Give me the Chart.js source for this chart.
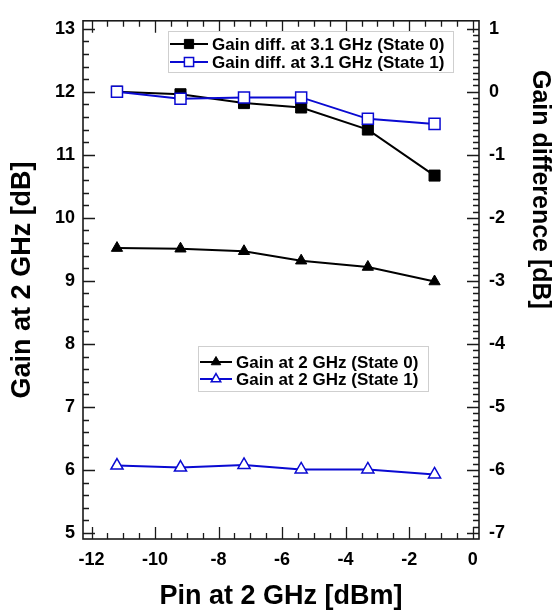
<!DOCTYPE html>
<html>
<head>
<meta charset="utf-8">
<script src="https://cdn.jsdelivr.net/npm/chart.js@4.4.1/dist/chart.umd.min.js"></script>
<style>
  html, body { margin: 0; padding: 0; background: #fff; }
  canvas { display: block; }
</style>
</head>
<body>
<canvas id="myChart" width="552" height="610"></canvas>
<script>
// values
const pinValues = [-11.2, -9.2, -7.2, -5.4, -3.3, -1.2];
const gainState0 = [9.52, 9.51, 9.47, 9.32, 9.22, 8.99];
const gainState1 = [6.07, 6.04, 6.08, 6.01, 6.01, 5.93];
const diffState0 = [0.0, -0.04, -0.18, -0.25, -0.6, -1.33];
const diffState1 = [0.0, -0.11, -0.09, -0.09, -0.43, -0.51];

const xTicks = [-12, -10, -8, -6, -4, -2, 0];
const gainTicks = [5, 6, 7, 8, 9, 10, 11, 12, 13];
const diffTicks = [-7, -6, -5, -4, -3, -2, -1, 0, 1];

const blue = '#0a0ad2';
const tickFont = { family: '"Liberation Sans", Arial, sans-serif', size: 18, weight: 'bold' };
const titleFont = { family: '"Liberation Sans", Arial, sans-serif', size: 27, weight: 'bold', lineHeight: 1 };

function points(values) {
    return pinValues.map((x, i) => ({ x: x, y: values[i] }));
}

// frame with inward major / minor tick marks
const frameTicks = {
    id: 'frameTicks',
    afterDraw(chart) {
        const { ctx, chartArea: a, scales } = chart;
        ctx.save();
        ctx.strokeStyle = '#1a1a1a';
        ctx.lineWidth = 1.3;
        ctx.beginPath();
        for (let i = 0; i <= 24; i++) {
            const px = Math.round(scales.x.getPixelForValue(-12 + i * 0.5)) + 0.5;
            const len = i % 4 === 0 ? 12 : 6;
            ctx.moveTo(px, a.bottom); ctx.lineTo(px, a.bottom - len);
            ctx.moveTo(px, a.top); ctx.lineTo(px, a.top + len);
        }
        for (let i = 0; i <= 40; i++) {
            const py = Math.round(scales.y.getPixelForValue(5 + i * 0.2)) + 0.5;
            const len = i % 5 === 0 ? 12 : 6;
            ctx.moveTo(a.left, py); ctx.lineTo(a.left + len, py);
        }
        for (let i = 0; i <= 80; i++) {
            const py = Math.round(scales.y2.getPixelForValue(-7 + i * 0.1)) + 0.5;
            const len = i % 10 === 0 ? 12 : 6;
            ctx.moveTo(a.right, py); ctx.lineTo(a.right - len, py);
        }
        ctx.stroke();
        ctx.lineWidth = 1.6;
        ctx.strokeRect(a.left, a.top, a.width, a.height);

        // right axis title sits high on the axis
        ctx.fillStyle = '#000';
        ctx.font = 'bold 25px "Liberation Sans", Arial, sans-serif';
        ctx.translate(540, 70);
        ctx.rotate(Math.PI / 2);
        ctx.textAlign = 'left';
        ctx.textBaseline = 'middle';
        ctx.fillText('Gain difference [dB]', 0, 0);
        ctx.restore();
    }
};

// two separate legend boxes inside the plot
const legendBoxes = [
    { datasets: [0, 1], left: 168, top: 31, width: 285, height: 41, firstRow: 13, rowHeight: 18, lineLen: 38 },
    { datasets: [2, 3], left: 198, top: 346, width: 230, height: 45, firstRow: 16, rowHeight: 17, lineLen: 32 }
];

const boxLegends = {
    id: 'boxLegends',
    afterDraw(chart) {
        const ctx = chart.ctx;
        ctx.save();
        legendBoxes.forEach(box => {
            ctx.fillStyle = '#fff';
            ctx.fillRect(box.left, box.top, box.width, box.height);
            ctx.strokeStyle = '#cfcfcf';
            ctx.lineWidth = 1;
            ctx.strokeRect(box.left + 0.5, box.top + 0.5, box.width, box.height);
            box.datasets.forEach((di, r) => {
                const ds = chart.data.datasets[di];
                const cy = box.top + box.firstRow + r * box.rowHeight;
                const x0 = box.left + 2;
                ctx.strokeStyle = ds.borderColor;
                ctx.lineWidth = 2;
                ctx.beginPath();
                ctx.moveTo(x0, cy); ctx.lineTo(x0 + box.lineLen, cy);
                ctx.stroke();
                ctx.fillStyle = ds.pointBackgroundColor;
                ctx.strokeStyle = ds.pointBorderColor;
                ctx.lineWidth = ds.pointBorderWidth;
                Chart.helpers.drawPoint(ctx, {
                    pointStyle: ds.pointStyle,
                    radius: ds.pointStyle === 'rect' ? 6.5 : 5.5,
                    borderWidth: ds.pointBorderWidth,
                    rotation: 0
                }, x0 + box.lineLen / 2, cy);
                ctx.fillStyle = '#000';
                ctx.font = 'bold 17px "Liberation Sans", Arial, sans-serif';
                ctx.textAlign = 'left';
                ctx.textBaseline = 'middle';
                ctx.fillText(ds.label, x0 + box.lineLen + 4, cy + 1);
            });
        });
        ctx.restore();
    }
};

const ctx = document.getElementById('myChart').getContext('2d');

new Chart(ctx, {
    type: 'line',
    data: {
        datasets: [
            {
                label: 'Gain diff. at 3.1 GHz (State 0)',
                data: points(diffState0),
                yAxisID: 'y2',
                borderColor: '#000',
                borderWidth: 2,
                pointStyle: 'rect',
                pointRadius: 7.8,
                pointBackgroundColor: '#000',
                pointBorderColor: '#000',
                pointBorderWidth: 1,
                order: 2
            },
            {
                label: 'Gain diff. at 3.1 GHz (State 1)',
                data: points(diffState1),
                yAxisID: 'y2',
                borderColor: blue,
                borderWidth: 2,
                pointStyle: 'rect',
                pointRadius: 7.8,
                pointBackgroundColor: '#fff',
                pointBorderColor: blue,
                pointBorderWidth: 1.5,
                order: 1
            },
            {
                label: 'Gain at 2 GHz (State 0)',
                data: points(gainState0),
                yAxisID: 'y',
                borderColor: '#000',
                borderWidth: 2,
                pointStyle: 'triangle',
                pointRadius: 6.5,
                pointBackgroundColor: '#000',
                pointBorderColor: '#000',
                pointBorderWidth: 1,
                order: 2
            },
            {
                label: 'Gain at 2 GHz (State 1)',
                data: points(gainState1),
                yAxisID: 'y',
                borderColor: blue,
                borderWidth: 2,
                pointStyle: 'triangle',
                pointRadius: 7,
                pointBackgroundColor: '#fff',
                pointBorderColor: blue,
                pointBorderWidth: 1.5,
                order: 1
            }
        ]
    },
    options: {
        responsive: false,
        animation: false,
        layout: { padding: { top: 13, left: 0, right: 0, bottom: 0 } },
        plugins: {
            legend: { display: false },
            tooltip: { enabled: false }
        },
        elements: { line: { tension: 0 } },
        scales: {
            x: {
                type: 'linear',
                min: -12.27,
                max: 0.2,
                afterBuildTicks: s => { s.ticks = xTicks.map(v => ({ value: v })); },
                afterFit: s => { s.height = 71; },
                grid: { display: false, drawTicks: false },
                border: { display: false },
                ticks: { color: '#000', font: tickFont, padding: 10, maxRotation: 0 },
                title: { display: true, text: 'Pin at 2 GHz [dBm]', color: '#000', font: titleFont, padding: { top: 0, bottom: 0 } }
            },
            y: {
                position: 'left',
                min: 4.906,
                max: 13.125,
                afterBuildTicks: s => { s.ticks = gainTicks.map(v => ({ value: v })); },
                afterFit: s => { s.width = 83; },
                grid: { display: false, drawTicks: false },
                border: { display: false },
                ticks: { color: '#000', font: tickFont, padding: 8 },
                title: { display: true, text: 'Gain at 2 GHz [dB]', color: '#000', font: titleFont, padding: { top: 9, bottom: 0 } }
            },
            y2: {
                position: 'right',
                min: -7.094,
                max: 1.125,
                afterBuildTicks: s => { s.ticks = diffTicks.map(v => ({ value: v })); },
                afterFit: s => { s.width = 73; },
                grid: { display: false, drawTicks: false },
                border: { display: false },
                ticks: { color: '#000', font: tickFont, padding: 10 }
            }
        }
    },
    plugins: [frameTicks, boxLegends]
});
</script>
</body>
</html>
